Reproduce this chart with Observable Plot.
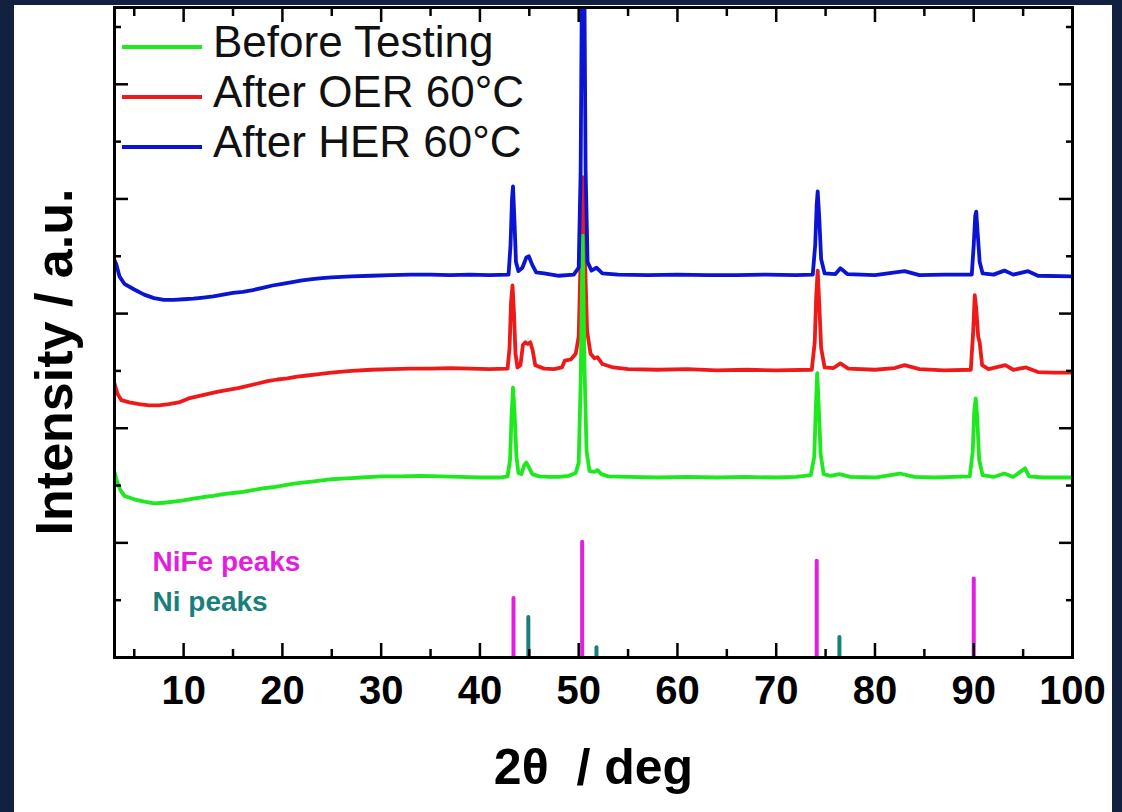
<!DOCTYPE html>
<html><head><meta charset="utf-8">
<script src="https://cdn.jsdelivr.net/npm/d3@7"></script>
<script src="https://cdn.jsdelivr.net/npm/@observablehq/plot@0.6"></script>
<style>
html,body{margin:0;padding:0;background:#12213f;width:1122px;height:812px;overflow:hidden;}
#panel{position:absolute;left:14px;top:5px;width:1098px;height:807px;background:#fff;}
#panel svg{position:absolute;left:0;top:0;}
.legline{position:absolute;left:108px;width:80px;height:3.5px;}
.legtext{position:absolute;left:199px;font-family:"Liberation Sans",Arial,sans-serif;font-size:44px;line-height:44px;color:#111;white-space:nowrap;}
#ytitle{position:absolute;left:-160px;top:331px;width:400px;height:52px;line-height:52px;text-align:center;
  font-family:"Liberation Sans",Arial,sans-serif;font-size:52px;font-weight:bold;color:#000;transform:rotate(-90deg);white-space:nowrap;}
</style></head>
<body><div id="panel"></div>
<script>
// ---- data ----
const seriesNames = ["Before Testing", "After OER 60°C", "After HER 60°C"];
const seriesColors = ["#1ee81e", "#ee1a1a", "#0a14d2"];

const beforeTesting = [
[3.0,3.23],[3.3,3.05],[3.6,2.92],[4.0,2.82],[5.0,2.76],[6.0,2.72],[7.0,2.69],[8.0,2.70],[9.0,2.72],[10.0,2.74],
[11.0,2.77],[12.0,2.80],[13.0,2.82],[14.0,2.85],[15.0,2.87],[16.0,2.89],[17.0,2.92],[18.0,2.95],[19.0,2.97],[20.0,3.00],
[21.0,3.03],[22.0,3.05],[23.0,3.07],[24.0,3.09],[25.0,3.11],[26.0,3.12],[27.0,3.13],[28.0,3.14],[30.0,3.16],[32.0,3.16],
[34.0,3.17],[36.0,3.16],[38.0,3.15],[40.0,3.14],[42.0,3.14],[42.8,3.16],[43.05,3.45],[43.2,4.2],[43.35,4.71],[43.5,4.3],
[43.7,3.5],[43.9,3.22],[44.2,3.2],[44.5,3.36],[44.7,3.40],[44.95,3.32],[45.3,3.2],[46.0,3.16],[47.0,3.15],[48.0,3.15],
[49.0,3.17],[49.7,3.22],[50.0,3.4],[50.2,4.8],[50.4,7.36],[50.6,5.0],[50.8,3.6],[51.1,3.25],[51.6,3.24],[51.9,3.27],
[52.3,3.2],[53.0,3.16],[55,3.15],[58,3.14],[61,3.15],[64,3.14],[67,3.15],[70,3.14],[72,3.15],[73.5,3.18],
[73.85,3.5],[74.0,4.3],[74.15,4.96],[74.3,4.4],[74.5,3.55],[74.8,3.2],[75.5,3.17],[76.4,3.2],[77.5,3.15],[80,3.14],
[82.5,3.21],[84,3.15],[86,3.14],[88,3.15],[89.6,3.16],[89.9,3.6],[90.05,4.3],[90.2,4.52],[90.35,4.2],[90.55,3.45],
[90.9,3.18],[92,3.15],[93.1,3.21],[94,3.15],[95.2,3.3],[95.6,3.16],[97,3.14],[100,3.14]
];

const afterOER = [
[3.0,4.78],[3.3,4.6],[3.7,4.49],[4.5,4.45],[5.5,4.42],[6.5,4.40],[7.5,4.40],[8.5,4.42],[9.5,4.45],[10.5,4.52],
[11.5,4.56],[12.5,4.60],[13.5,4.64],[14.5,4.67],[15.5,4.70],[16.5,4.74],[17.5,4.78],[18.5,4.82],[19.5,4.85],[20.5,4.87],
[21.5,4.90],[22.5,4.92],[23.5,4.94],[24.5,4.96],[25.5,4.98],[27,5.00],[29,5.02],[31,5.03],[33,5.04],[35,5.04],
[37,5.05],[39,5.04],[41,5.03],[42.8,5.04],[43.0,5.4],[43.15,6.2],[43.3,6.49],[43.45,6.0],[43.6,5.3],[43.8,5.06],
[44.1,5.1],[44.35,5.45],[44.6,5.5],[44.85,5.47],[45.1,5.5],[45.35,5.35],[45.6,5.1],[46.5,5.04],[47.5,5.03],[48.3,5.06],
[48.6,5.18],[49.2,5.2],[49.7,5.3],[50.0,5.6],[50.2,7.0],[50.4,8.38],[50.6,7.2],[50.85,5.7],[51.2,5.3],[51.6,5.22],
[51.9,5.24],[52.4,5.12],[53.5,5.06],[55,5.03],[58,5.02],[61,5.03],[64,5.01],[67,5.02],[70,5.01],[73.6,5.02],
[73.9,5.5],[74.05,6.3],[74.2,6.75],[74.35,6.2],[74.55,5.4],[74.9,5.06],[75.8,5.05],[76.5,5.13],[77.3,5.04],[80,5.02],
[82,5.05],[83,5.10],[84.5,5.03],[87,5.01],[89.7,5.02],[89.95,5.7],[90.1,6.32],[90.25,6.1],[90.45,5.6],[90.6,5.5],
[90.85,5.1],[91.5,5.03],[93.2,5.10],[94,5.02],[95.3,5.06],[96.5,4.98],[98,4.97],[100,4.97]
];

const afterHER = [
[3.0,6.93],[3.2,6.85],[3.5,6.65],[4.0,6.52],[5.0,6.42],[6.0,6.33],[7.0,6.27],[8.0,6.24],[9.0,6.24],[10.0,6.25],
[11.0,6.26],[12.0,6.28],[13.0,6.30],[14.0,6.33],[15.0,6.36],[16.0,6.38],[17.0,6.41],[18.0,6.45],[19.0,6.49],[20.0,6.52],
[21.0,6.55],[22.0,6.58],[23.0,6.60],[24.0,6.62],[25.0,6.63],[27.0,6.65],[29.0,6.66],[31.0,6.67],[33.0,6.68],[35.0,6.68],
[37.0,6.67],[39.0,6.68],[41.0,6.67],[42.9,6.68],[43.1,7.2],[43.25,8.0],[43.35,8.22],[43.5,7.6],[43.65,6.9],[43.9,6.74],
[44.3,6.8],[44.7,6.98],[44.95,7.0],[45.3,6.85],[45.7,6.72],[46.5,6.7],[48,6.66],[49.5,6.68],[50.0,6.8],[50.2,8.5],
[50.45,15],[50.7,8.5],[50.9,6.9],[51.3,6.75],[51.8,6.8],[52.4,6.7],[54,6.68],[57,6.67],[60,6.68],[63,6.67],
[66,6.67],[69,6.68],[72,6.67],[73.7,6.68],[73.95,7.2],[74.1,7.9],[74.2,8.13],[74.35,7.7],[74.55,6.95],[74.9,6.7],
[76,6.69],[76.5,6.79],[77.2,6.69],[80,6.67],[83,6.74],[84.5,6.67],[87,6.68],[89.8,6.68],[90.0,7.2],[90.15,7.7],
[90.25,7.78],[90.4,7.4],[90.6,6.9],[90.9,6.7],[92,6.68],[93.1,6.75],[94,6.68],[95.5,6.74],[96.5,6.66],[100,6.65]
];

// reference peak positions [2θ, relative height]
const nifePeaks = [[43.4,1.03],[50.35,2.01],[74.1,1.68],[90.0,1.37]];
const niPeaks = [[44.9,0.70],[51.8,0.17],[76.4,0.35]];
const peakLabels = ["NiFe peaks", "Ni peaks"];
const peakColors = ["#e21ee0", "#1a7f7a"];

const xMajorTicks = [10,20,30,40,50,60,70,80,90,100];
const xMinorTicks = [5,15,25,35,45,55,65,75,85,95];
const yMajorTicks = [0,2,4,6,8,10];
const yMinorTicks = [1,3,5,7,9,11];
const xTitle = "2θ\u00a0\u00a0/\u00a0deg";
const yTitle = "Intensity / a.u.";

// ---- chart ----
const X = d => d[0], Y = d => d[1];
const tickStyle = {strokeWidth: 2.5, fill: null, label: null};

const plot = Plot.plot({
  width: 1098, height: 807,
  marginLeft: 100, marginRight: 40, marginTop: 2, marginBottom: 155,
  style: {fontFamily: "'Liberation Sans', Arial, sans-serif", color: "#000", background: "transparent", overflow: "visible"},
  x: {domain: [3, 100]},
  y: {domain: [0, 11.34]},
  marks: [
    Plot.ruleX(nifePeaks, {x: X, y1: 0, y2: Y, stroke: peakColors[0], strokeWidth: 4, strokeLinecap: "round"}),
    Plot.ruleX(niPeaks, {x: X, y1: 0, y2: Y, stroke: peakColors[1], strokeWidth: 4, strokeLinecap: "round"}),
    Plot.line(afterOER, {x: X, y: Y, stroke: seriesColors[1], strokeWidth: 3.8, clip: true}),
    Plot.line(beforeTesting, {x: X, y: Y, stroke: seriesColors[0], strokeWidth: 3.8, clip: true}),
    Plot.line(afterHER, {x: X, y: Y, stroke: seriesColors[2], strokeWidth: 3.8, clip: true}),
    Plot.axisX(xMajorTicks, {anchor: "bottom", tickSize: -14, ...tickStyle}),
    Plot.axisX(xMinorTicks, {anchor: "bottom", tickSize: -8, ...tickStyle}),
    Plot.axisX(xMajorTicks, {anchor: "top", tickSize: -14, ...tickStyle}),
    Plot.axisX(xMinorTicks, {anchor: "top", tickSize: -8, ...tickStyle}),
    Plot.axisY(yMajorTicks, {anchor: "left", tickSize: -14, ...tickStyle}),
    Plot.axisY(yMinorTicks, {anchor: "left", tickSize: -7, ...tickStyle}),
    Plot.axisY(yMajorTicks, {anchor: "right", tickSize: -14, ...tickStyle}),
    Plot.axisY(yMinorTicks, {anchor: "right", tickSize: -7, ...tickStyle}),
    Plot.axisX(xMajorTicks, {anchor: "bottom", tickSize: 0, tickPadding: 18, fontSize: 40, fontWeight: "bold", label: null}),
    Plot.frame({strokeWidth: 3}),
    Plot.text([peakLabels[0]], {frameAnchor: "bottom-left", dx: 38, dy: -87, textAnchor: "start", fill: peakColors[0], fontSize: 28, fontWeight: "bold"}),
    Plot.text([peakLabels[1]], {frameAnchor: "bottom-left", dx: 38, dy: -47, textAnchor: "start", fill: peakColors[1], fontSize: 28, fontWeight: "bold"}),
    Plot.text([xTitle], {frameAnchor: "bottom", dy: 126, fontSize: 50, fontWeight: "bold"})
  ]
});

const panel = document.getElementById("panel");
panel.appendChild(plot);

// y-axis title
const yt = document.createElement("div");
yt.id = "ytitle";
yt.textContent = yTitle;
panel.appendChild(yt);

// in-plot legend
seriesNames.forEach((name, i) => {
  const ln = document.createElement("div");
  ln.className = "legline";
  ln.style.top = (40.25 + i * 50) + "px";
  ln.style.background = seriesColors[i];
  panel.appendChild(ln);
  const tx = document.createElement("div");
  tx.className = "legtext";
  tx.style.top = (15 + i * 50) + "px";
  tx.textContent = name;
  panel.appendChild(tx);
});
</script>
</body></html>
